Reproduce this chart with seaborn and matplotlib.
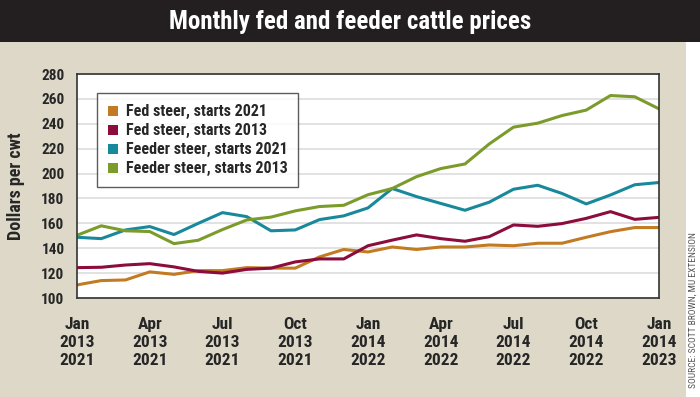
import pandas as pd
import matplotlib
matplotlib.use('Agg')
import matplotlib.pyplot as plt
from matplotlib.patches import Rectangle, Patch
import seaborn as sns

# monthly prices, 25 months from Jan to Jan two years later
fed_2021 = [110.5, 114, 114.5, 121, 119, 122, 122, 124.4, 124, 124, 133, 139, 137,
            141, 139, 141, 141, 142.6, 142, 144, 144, 148.8, 153.3, 156.6, 156.6]
fed_2013 = [124.4, 124.7, 126.5, 127.6, 125, 121.4, 120, 123, 124, 129, 131.4, 131.4, 142,
            146.5, 150.7, 147.7, 145.6, 149.3, 158.7, 157.6, 159.8, 164, 169.4, 163.2, 164.8]
feeder_2021 = [148.8, 147.7, 154.7, 157.4, 151, 160, 168.6, 165.4, 154, 154.7, 163, 166, 172.4,
               188, 181.5, 176, 170.5, 177, 187.4, 190.6, 184, 175.6, 182.8, 191, 192.8]
feeder_2013 = [150.4, 158, 154, 153.4, 143.7, 146.4, 155, 162.7, 165, 170, 173.5, 174.5, 183,
               188, 197.5, 204, 207.7, 223.8, 237.3, 240.5, 246.6, 251, 262.7, 261.7, 252]

series_names = ['Fed steer, starts 2021', 'Fed steer, starts 2013',
                'Feeder steer, starts 2021', 'Feeder steer, starts 2013']
colors = ['#c27b22', '#8c0c3c', '#17899a', '#7b9b2b']

tick_pos = [0, 3, 6, 9, 12, 15, 18, 21, 24]
tick_labels = ['Jan\n2013\n2021', 'Apr\n2013\n2021', 'Jul\n2013\n2021', 'Oct\n2013\n2021',
               'Jan\n2014\n2022', 'Apr\n2014\n2022', 'Jul\n2014\n2022', 'Oct\n2014\n2022',
               'Jan\n2014\n2023']

rows = []
for name, vals in zip(series_names, [fed_2021, fed_2013, feeder_2021, feeder_2013]):
    for i, v in enumerate(vals):
        rows.append({'month': i, 'price': v, 'series': name})
df = pd.DataFrame(rows)

sns.set_style('white')
plt.rcParams['font.family'] = ['Roboto Condensed', 'Roboto', 'DejaVu Sans']
plt.rcParams['font.stretch'] = 'condensed'
plt.rcParams['font.weight'] = 'bold'

bg = '#ddd8c8'
fig = plt.figure(figsize=(7, 3.97), dpi=100)
fig.patch.set_facecolor(bg)
fig.patches.append(Rectangle((0, 1 - 42 / 397), 1, 42 / 397, transform=fig.transFigure,
                             facecolor='#231f20', edgecolor='none', zorder=0))
fig.patches.append(Rectangle((686 / 700, 0), 14 / 700, 1 - 42 / 397, transform=fig.transFigure,
                             facecolor='white', edgecolor='none', zorder=0))
fig.text(0.5, 1 - 22 / 397, 'Monthly fed and feeder cattle prices', color='white',
         fontsize=18, fontweight='bold', ha='center', va='center')
fig.text(693 / 700, 0.22, 'SOURCE: SCOTT BROWN, MU EXTENSION', rotation=90, color='#555555',
         fontsize=6.8, fontweight='normal', ha='center', va='center')

ax = fig.add_axes([77 / 700, 99 / 397, 582 / 700, 224 / 397])
ax.set_facecolor('white')
sns.lineplot(data=df, x='month', y='price', hue='series', palette=colors,
             hue_order=series_names, linewidth=2.2, ax=ax, legend=False)

ax.set_xlim(0, 24)
ax.set_ylim(100, 280)
ax.set_yticks(range(100, 281, 20))
ax.yaxis.grid(True, color='#dddddd', linewidth=1.2)
ax.set_axisbelow(True)
ax.set_xticks(tick_pos)
ax.set_xticklabels(tick_labels, fontsize=12.5, fontweight='bold', linespacing=1.25)
ax.tick_params(axis='y', labelsize=11, length=0, pad=9)
ax.tick_params(axis='x', length=0, pad=14)
for lab in ax.get_yticklabels():
    lab.set_fontweight('bold')
ax.set_xlabel('')
ax.set_ylabel('Dollars per cwt', fontsize=13, fontweight='bold', labelpad=12)
for s in ax.spines.values():
    s.set_color('#333333')
    s.set_linewidth(1.2)

handles = [Patch(facecolor=c, edgecolor='none') for c in colors]
leg = ax.legend(handles, series_names, loc='upper left', bbox_to_anchor=(0.034, 0.915),
                borderaxespad=0, prop={'size': 11.5, 'weight': 'bold'}, frameon=True,
                fancybox=False, handlelength=0.6, handleheight=0.6, handletextpad=0.5,
                labelspacing=0.25, borderpad=0.7)
leg.get_frame().set_edgecolor('#333333')
leg.get_frame().set_linewidth(1.0)

fig.savefig('out.png', dpi=100, facecolor=fig.get_facecolor())
